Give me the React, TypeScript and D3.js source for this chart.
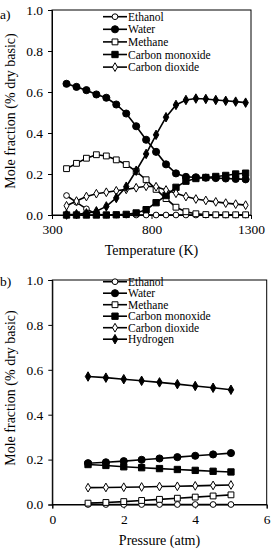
import React, { useEffect, useRef } from 'react';
import * as d3 from 'd3';

// panel a: composition vs temperature
const temps = [373, 423, 473, 523, 573, 623, 673, 723, 773, 823, 873, 923, 973, 1023, 1073, 1123, 1173, 1223, 1273];
const ethanolT = [0.095, 0.062, 0.03, 0.004, 0, 0, 0, 0, 0, 0, 0, 0, 0, 0, 0, 0, 0, 0, 0];
const waterT = [0.64, 0.625, 0.609, 0.588, 0.572, 0.539, 0.495, 0.433, 0.367, 0.308, 0.247, 0.203, 0.186, 0.184, 0.182, 0.18, 0.178, 0.176, 0.174];
const methaneT = [0.226, 0.252, 0.277, 0.294, 0.288, 0.269, 0.246, 0.213, 0.172, 0.125, 0.08, 0.038, 0.016, 0.006, 0.002, 0.001, 0.001, 0.001, 0.001];
const coT = [0, 0, 0, 0, 0, 0.001, 0.003, 0.01, 0.026, 0.06, 0.095, 0.135, 0.165, 0.178, 0.183, 0.188, 0.193, 0.2, 0.204];
const co2T = [0.045, 0.068, 0.09, 0.104, 0.111, 0.118, 0.125, 0.133, 0.14, 0.138, 0.122, 0.106, 0.09, 0.078, 0.071, 0.064, 0.058, 0.053, 0.048];
const hydrogenT = [0.002, 0.004, 0.008, 0.018, 0.042, 0.083, 0.138, 0.216, 0.298, 0.391, 0.477, 0.537, 0.561, 0.568, 0.566, 0.561, 0.557, 0.553, 0.548];

// panel b: composition vs pressure
const pressures = [1, 1.5, 2, 2.5, 3, 3.5, 4, 4.5, 5];
const ethanolP = [0, 0, 0, 0, 0, 0, 0, 0, 0];
const waterP = [0.184, 0.188, 0.193, 0.199, 0.205, 0.211, 0.217, 0.223, 0.229];
const methaneP = [0.006, 0.009, 0.013, 0.018, 0.023, 0.028, 0.033, 0.038, 0.043];
const coP = [0.178, 0.174, 0.168, 0.164, 0.16, 0.156, 0.152, 0.148, 0.145];
const co2P = [0.075, 0.076, 0.077, 0.078, 0.08, 0.081, 0.083, 0.085, 0.087];
const hydrogenP = [0.57, 0.565, 0.558, 0.551, 0.544, 0.536, 0.528, 0.52, 0.511];

const labelsA = ['Ethanol', 'Water', 'Methane', 'Carbon monoxide', 'Carbon dioxide'];
const labelsB = ['Ethanol', 'Water', 'Methane', 'Carbon monoxide', 'Carbon dioxide', 'Hydrogen'];

const FONT = 'Liberation Serif';

// marker style per species
const markers = {
  Ethanol: { type: d3.symbolCircle, size: 26, fill: 'white' },
  Water: { type: d3.symbolCircle, size: 40, fill: 'black' },
  Methane: { type: d3.symbolSquare, size: 34, fill: 'white' },
  'Carbon monoxide': { type: d3.symbolSquare, size: 40, fill: 'black' },
  'Carbon dioxide': { type: d3.symbolDiamond, size: 22, fill: 'white' },
  Hydrogen: { type: d3.symbolDiamond, size: 26, fill: 'black' },
};

const drawPanel = (svg, cfg) => {
  const { xs, series, xDomain, xTicks, xRange, yRange, xTitle, tag, tagY, legend, legendY, legendStep, titleY, tickY, yTitleY } = cfg;
  const x = d3.scaleLinear().domain(xDomain).range(xRange);
  const y = d3.scaleLinear().domain([0, 1]).range(yRange);
  const g = svg.append('g');

  g.append('rect')
    .attr('x', xRange[0]).attr('y', yRange[1])
    .attr('width', xRange[1] - xRange[0]).attr('height', yRange[0] - yRange[1])
    .attr('fill', 'none').attr('stroke', 'black').attr('stroke-width', 1);

  const yAxis = g.append('g')
    .attr('transform', `translate(${xRange[0]},0)`)
    .call(d3.axisLeft(y).tickValues([0, 0.2, 0.4, 0.6, 0.8, 1]).tickFormat(d3.format('.1f')).tickSize(4).tickPadding(5));
  const xAxis = g.append('g')
    .attr('transform', `translate(0,${yRange[0]})`)
    .call(d3.axisBottom(x).tickValues(xTicks).tickFormat(d3.format('d')).tickSize(4).tickPadding(6));
  [xAxis, yAxis].forEach(a => {
    a.attr('font-family', FONT).attr('font-size', 13.5);
    a.select('.domain').attr('stroke', 'black');
    a.selectAll('text').attr('fill', 'black');
  });
  xAxis.selectAll('text').attr('y', tickY - yRange[0]).attr('dy', 0);

  g.append('text')
    .attr('x', (xRange[0] + xRange[1]) / 2).attr('y', titleY)
    .attr('text-anchor', 'middle').attr('font-family', FONT).attr('font-size', 14)
    .text(xTitle);
  g.append('text')
    .attr('transform', `translate(15,${yTitleY}) rotate(-90)`)
    .attr('text-anchor', 'middle').attr('font-family', FONT).attr('font-size', 14)
    .text('Mole fraction (% dry basic)');
  g.append('text')
    .attr('x', 0).attr('y', tagY)
    .attr('font-family', FONT).attr('font-size', 13.5)
    .text(tag);

  const line = d3.line().x((d, i) => x(xs[i])).y(d => y(d));
  series.forEach(s => {
    const m = markers[s.name];
    g.append('path')
      .datum(s.values)
      .attr('fill', 'none').attr('stroke', 'black').attr('stroke-width', 1.6)
      .attr('d', line);
    g.append('g').selectAll('path')
      .data(s.values)
      .join('path')
      .attr('transform', (d, i) => `translate(${x(xs[i])},${y(d)})`)
      .attr('d', d3.symbol().type(m.type).size(m.size)())
      .attr('fill', m.fill).attr('stroke', 'black').attr('stroke-width', 1);
  });

  const lg = g.append('g');
  legend.forEach((name, i) => {
    const m = markers[name];
    const ly = legendY + i * legendStep;
    lg.append('line').attr('x1', 103).attr('x2', 127).attr('y1', ly).attr('y2', ly)
      .attr('stroke', 'black').attr('stroke-width', 1.6);
    lg.append('path')
      .attr('transform', `translate(115,${ly})`)
      .attr('d', d3.symbol().type(m.type).size(m.size)())
      .attr('fill', m.fill).attr('stroke', 'black').attr('stroke-width', 1);
    lg.append('text')
      .attr('x', 128).attr('y', ly + 4)
      .attr('font-family', FONT).attr('font-size', 11.5)
      .text(name);
  });
};

const App = () => {
  const ref = useRef(null);

  useEffect(() => {
    const svg = d3.select(ref.current);
    svg.selectAll('*').remove();

    drawPanel(svg, {
      xs: temps,
      series: [
        { name: 'Ethanol', values: ethanolT },
        { name: 'Water', values: waterT },
        { name: 'Methane', values: methaneT },
        { name: 'Carbon monoxide', values: coT },
        { name: 'Carbon dioxide', values: co2T },
        { name: 'Hydrogen', values: hydrogenT },
      ],
      xDomain: [300, 1300],
      xTicks: [300, 800, 1300],
      xRange: [52, 251],
      yRange: [215, 10],
      xTitle: 'Temperature (K)',
      tag: 'a)',
      tagY: 19,
      legend: labelsA,
      legendY: 16.7,
      legendStep: 12.6,
      tickY: 234,
      titleY: 255,
      yTitleY: 111,
    });

    drawPanel(svg, {
      xs: pressures,
      series: [
        { name: 'Ethanol', values: ethanolP },
        { name: 'Water', values: waterP },
        { name: 'Methane', values: methaneP },
        { name: 'Carbon monoxide', values: coP },
        { name: 'Carbon dioxide', values: co2P },
        { name: 'Hydrogen', values: hydrogenP },
      ],
      xDomain: [0, 6],
      xTicks: [0, 2, 4, 6],
      xRange: [52.3, 266.7],
      yRange: [504.5, 280],
      xTitle: 'Pressure (atm)',
      tag: 'b)',
      tagY: 286,
      legend: labelsB,
      legendY: 281.7,
      legendStep: 11.5,
      tickY: 524,
      titleY: 545,
      yTitleY: 388,
    });
  }, []);

  return (
    <svg ref={ref} width={274} height={550} style={{ position: 'absolute', left: 0, top: 0, background: 'white' }}></svg>
  );
};

export default App;
